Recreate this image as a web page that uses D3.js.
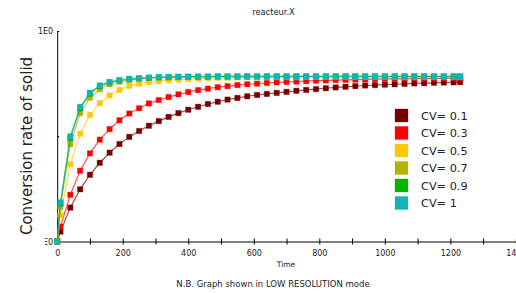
<!DOCTYPE html>
<html><head><meta charset="utf-8">
<script src="https://cdn.jsdelivr.net/npm/d3@7"></script>
<style>body{margin:0;background:#fff}svg{display:block}text{font-family:"DejaVu Sans",sans-serif;fill:#222}</style>
</head><body><svg id="c" width="516" height="293"></svg>
<script>
const times = [0,10,40,70,100,130,160,190,220,250,280,310,340,370,400,430,460,490,520,550,580,610,640,670,700,730,760,790,820,850,880,910,940,970,1000,1030,1060,1090,1120,1150,1180,1210,1230];
const cv01 = [0,0.047,0.161,0.248,0.317,0.374,0.422,0.463,0.497,0.525,0.550,0.572,0.592,0.610,0.626,0.640,0.653,0.664,0.674,0.682,0.690,0.696,0.701,0.706,0.711,0.716,0.720,0.724,0.728,0.732,0.735,0.738,0.741,0.743,0.745,0.747,0.749,0.751,0.752,0.754,0.755,0.756,0.757];
const cv03 = [0,0.070,0.222,0.336,0.419,0.484,0.534,0.576,0.608,0.633,0.656,0.672,0.686,0.699,0.710,0.719,0.726,0.733,0.738,0.743,0.747,0.750,0.753,0.756,0.758,0.760,0.762,0.764,0.765,0.767,0.768,0.769,0.770,0.771,0.772,0.773,0.773,0.774,0.774,0.775,0.775,0.776,0.776];
const cv05 = [0,0.124,0.367,0.512,0.601,0.657,0.694,0.720,0.739,0.750,0.757,0.762,0.766,0.769,0.772,0.774,0.776,0.777,0.778,0.779,0.780,0.780,0.781,0.781,0.781,0.781,0.782,0.782,0.782,0.782,0.782,0.782,0.782,0.782,0.782,0.782,0.782,0.782,0.782,0.782,0.782,0.782,0.782];
const cv07 = [0,0.165,0.462,0.609,0.683,0.723,0.747,0.759,0.767,0.773,0.776,0.778,0.780,0.781,0.782,0.782,0.782,0.783,0.783,0.783,0.783,0.783,0.783,0.783,0.783,0.783,0.783,0.783,0.783,0.783,0.783,0.783,0.783,0.783,0.783,0.783,0.783,0.783,0.783,0.783,0.783,0.783,0.783];
const cv09 = [0,0.180,0.490,0.632,0.702,0.738,0.756,0.765,0.771,0.775,0.778,0.780,0.781,0.782,0.783,0.783,0.783,0.784,0.784,0.784,0.784,0.784,0.784,0.784,0.784,0.784,0.784,0.784,0.784,0.784,0.784,0.784,0.784,0.784,0.784,0.784,0.784,0.784,0.784,0.784,0.784,0.784,0.784];
const cv1  = [0,0.186,0.500,0.640,0.707,0.742,0.758,0.767,0.773,0.776,0.779,0.781,0.782,0.783,0.783,0.784,0.784,0.784,0.784,0.784,0.785,0.785,0.785,0.785,0.785,0.785,0.785,0.785,0.785,0.785,0.785,0.785,0.785,0.785,0.785,0.785,0.785,0.785,0.785,0.785,0.785,0.785,0.785];
const seriesNames = ["CV= 0.1","CV= 0.3","CV= 0.5","CV= 0.7","CV= 0.9","CV= 1"];
const seriesValues = [cv01,cv03,cv05,cv07,cv09,cv1];
const colors = ["#750000","#ff0000","#ffc800","#b4b400","#00b400","#14b4b4"];
const xTicks = [0,100,200,300,400,500,600,700,800,900,1000,1100,1200,1300,1400];
const xTickLabels = ["0","","200","","400","","600","","800","","1000","","1200","","1400"];
const yTicks = [0,0.5,1];
const yTickLabels = ["0E0","","1E0"];

const svg = d3.select("#c");
const x = d3.scaleLinear().domain([0,1400]).range([57.2,515.9]);
const y = d3.scaleLinear().domain([0,1]).range([241.5,31]);

// title
svg.append("text").attr("x",273.5).attr("y",15).attr("text-anchor","middle").style("font-size","8.3px").text("reacteur.X");

// axes
const xa = svg.append("g").attr("transform","translate(0,241.5)")
  .call(d3.axisBottom(x).tickValues(xTicks).tickSizeInner(3).tickSizeOuter(0).tickPadding(6).tickFormat((d,i)=>xTickLabels[i]));
xa.select(".domain").attr("stroke","#000");
xa.selectAll(".tick line").attr("y1",-3).attr("stroke","#000");
xa.selectAll("text").style("font-size","8px").attr("fill","#222");

const defs = svg.append("defs");
defs.append("clipPath").attr("id","yclip").append("rect").attr("x",-12.2).attr("y",-20).attr("width",40).attr("height",40);
const ya = svg.append("g").attr("transform","translate(57.2,0)")
  .call(d3.axisLeft(y).tickValues(yTicks).tickSizeInner(2).tickSizeOuter(0).tickPadding(2).tickFormat((d,i)=>yTickLabels[i]));
ya.select(".domain").attr("stroke","#000");
ya.selectAll(".tick line").attr("x2",2).attr("stroke","#000");
ya.selectAll("text").style("font-size","8px").attr("fill","#222");
ya.selectAll(".tick").filter(d=>d===0).select("text").attr("clip-path","url(#yclip)");

// axis titles
svg.append("text").attr("x",286).attr("y",267).attr("text-anchor","middle").style("font-size","7.5px").text("Time");
svg.append("text").attr("transform","translate(32,146) rotate(-90)").attr("text-anchor","middle").style("font-size","15px").attr("fill","#000").text("Conversion rate of solid");
svg.append("text").attr("x",273).attr("y",286.5).attr("text-anchor","middle").style("font-size","8.5px").text("N.B. Graph shown in LOW RESOLUTION mode");

// series
const line = d3.line().x(d=>x(d[0])).y(d=>y(d[1]));
seriesValues.forEach((vals,si)=>{
  const pts = times.map((t,i)=>[t,vals[i]]);
  const g = svg.append("g");
  g.append("path").datum(pts).attr("d",line).attr("fill","none").attr("stroke",colors[si]).attr("stroke-opacity",0.7).attr("stroke-width",1.2);
  g.selectAll("rect").data(pts).join("rect")
    .attr("x",d=>x(d[0])-2.7).attr("y",d=>y(d[1])-2.7).attr("width",5.4).attr("height",5.4)
    .attr("fill",colors[si]).attr("stroke",colors[si]).attr("stroke-opacity",0.3).attr("stroke-width",1);
});

// legend
const lg = svg.append("g");
seriesNames.forEach((n,i)=>{
  const yy = 115.5 + i*17.5;
  lg.append("rect").attr("x",395).attr("y",yy-6.5).attr("width",13).attr("height",13).attr("fill",colors[i]).attr("stroke",colors[i]).attr("stroke-opacity",0.3);
  lg.append("text").attr("x",421).attr("y",yy+4.2).style("font-size",11.3+"px").attr("fill","#222").text(n);
});
</script></body></html>
